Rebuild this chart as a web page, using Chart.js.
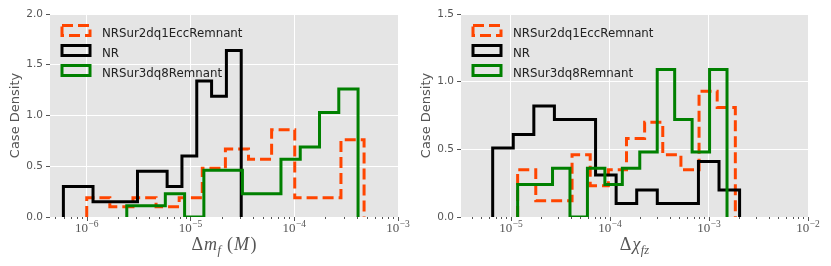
<!DOCTYPE html>
<html>
<head>
<meta charset="utf-8">
<script src="https://cdn.jsdelivr.net/npm/chart.js@4.4.0/dist/chart.umd.min.js"></script>
<style>
  body { margin: 0; background: #fff; width: 831px; height: 266px; overflow: hidden; }
  #wrap { display: flex; }
  canvas { display: block; }
</style>
</head>
<body>
<div id="wrap">
  <canvas id="massVis" width="415" height="266"></canvas>
  <canvas id="spinVis" width="416" height="266"></canvas>
</div>
<script>
const seriesNames = ['NRSur2dq1EccRemnant', 'NR', 'NRSur3dq8Remnant'];
const seriesColors = ['#ff4500', '#000000', '#008000'];

// left panel, Delta m_f : 12 equal bins in log10, [first edge, last edge]
const massEccRange = [-6.0, -3.327];
const massEccDensity = [0.19, 0.10, 0.19, 0.10, 0.19, 0.48, 0.67, 0.57, 0.86, 0.19, 0.19, 0.76];
const massNRRange = [-6.225, -4.511];
const massNRDensity = [0.30, 0.30, 0.15, 0.15, 0.15, 0.45, 0.45, 0.30, 0.60, 1.34, 1.19, 1.64];
const massSur3Range = [-5.614, -3.385];
const massSur3Density = [0.11, 0.11, 0.23, 0, 0.46, 0.46, 0.23, 0.23, 0.57, 0.69, 1.03, 1.26];

// right panel, Delta chi_fz
const spinEccRange = [-4.933, -2.734];
const spinEccDensity = [0.35, 0.12, 0.12, 0.46, 0.23, 0.35, 0.58, 0.70, 0.46, 0.35, 0.93, 0.81];
const spinNRRange = [-5.185, -2.691];
const spinNRDensity = [0.51, 0.61, 0.82, 0.72, 0.72, 0.31, 0.10, 0.20, 0.10, 0.10, 0.41, 0.20];
const spinSur3Range = [-4.933, -2.818];
const spinSur3Density = [0.24, 0.24, 0.36, 0, 0.36, 0.24, 0.36, 0.48, 1.09, 0.72, 0.48, 1.09];

const massDecades = [-6, -5, -4, -3];
const spinDecades = [-5, -4, -3, -2];

// turn bin range + heights into the outline of a step histogram
function stepOutline(range, heights) {
  const n = heights.length;
  const w = (range[1] - range[0]) / n;
  const edge = i => Math.pow(10, range[0] + i * w);
  const pts = [{x: edge(0), y: 0}];
  heights.forEach((h, i) => {
    pts.push({x: edge(i), y: h});
    pts.push({x: edge(i + 1), y: h});
  });
  pts.push({x: edge(n), y: 0});
  return pts;
}

function isDecade(v) {
  const p = Math.log10(v);
  return Math.abs(p - Math.round(p)) < 1e-6;
}
function isMinor(v) {
  const s = v / Math.pow(10, Math.floor(Math.log10(v) + 1e-9));
  return Math.abs(s - Math.round(s)) < 1e-6;
}

// draw a run of text pieces [text, font, dy, extra gap] centred on cx
function drawPieces(ctx, parts, cx, base) {
  let total = 0;
  parts.forEach(p => { ctx.font = p[1]; total += ctx.measureText(p[0]).width + (p[3] || 0); });
  let x = cx - total / 2;
  parts.forEach(p => {
    ctx.font = p[1];
    ctx.fillText(p[0], x, base + (p[2] || 0));
    x += ctx.measureText(p[0]).width + (p[3] || 0);
  });
}

const SERIF = '"Liberation Serif", "DejaVu Serif", serif';

const panelDecor = {
  id: 'panelDecor',
  beforeDraw(chart) {
    const {ctx, chartArea: a} = chart;
    ctx.save();
    ctx.fillStyle = '#ffffff';
    ctx.fillRect(0, 0, chart.width, chart.height);
    ctx.fillStyle = '#e5e5e5';
    ctx.fillRect(a.left, a.top, a.right - a.left, a.bottom - a.top);
    ctx.restore();
  },
  afterDraw(chart, args, opts) {
    const {ctx, chartArea: a} = chart;
    const xs = chart.scales.x;
    ctx.save();
    // x tick marks
    ctx.strokeStyle = '#555555';
    ctx.lineWidth = 1;
    xs.ticks.forEach(t => {
      if (!isMinor(t.value)) return;
      const px = Math.round(xs.getPixelForValue(t.value)) + 0.5;
      const len = isDecade(t.value) ? 4 : 2;
      ctx.beginPath();
      ctx.moveTo(px, a.bottom);
      ctx.lineTo(px, a.bottom + len);
      ctx.stroke();
    });
    // x tick labels 10^n
    ctx.fillStyle = '#555555';
    ctx.textBaseline = 'alphabetic';
    ctx.textAlign = 'left';
    opts.decades.forEach(e => {
      const px = xs.getPixelForValue(Math.pow(10, e));
      drawPieces(ctx, [
        ['10', '13px ' + SERIF, 0, 0.5],
        ['\u2212' + Math.abs(e), '9.5px ' + SERIF, -5]
      ], px, 232);
    });
    // x axis title
    drawPieces(ctx, opts.xTitle, (a.left + a.right) / 2, 250);
    // y axis title
    ctx.save();
    ctx.translate(a.left - 34, (a.top + a.bottom) / 2);
    ctx.rotate(-Math.PI / 2);
    ctx.textAlign = 'center';
    ctx.textBaseline = 'middle';
    ctx.font = '13px "DejaVu Sans"';
    ctx.fillText('Case Density', 0, 0);
    ctx.restore();
    // legend
    const rows = [30.5, 50.5, 70.5];
    seriesNames.forEach((name, i) => {
      ctx.lineWidth = 3;
      ctx.strokeStyle = seriesColors[i];
      ctx.setLineDash(i === 0 ? [11, 5] : []);
      ctx.strokeRect(a.left + 12, rows[i] - 5, 28, 10);
      ctx.setLineDash([]);
      ctx.fillStyle = '#222222';
      ctx.font = '11.8px "DejaVu Sans"';
      ctx.fillText(name, a.left + 52, rows[i] + 6.3);
    });
    ctx.restore();
  }
};

function histSet(i, pts) {
  return {
    label: seriesNames[i],
    data: pts,
    showLine: true,
    borderColor: seriesColors[i],
    borderWidth: 3,
    borderDash: i === 0 ? [11, 5] : [],
    borderJoinStyle: 'miter',
    borderCapStyle: 'butt',
    pointRadius: 0,
    fill: false,
    tension: 0,
    order: i === 0 ? 3 : (i === 1 ? 2 : 1)
  };
}

function makePanel(id, sets, cfg) {
  return new Chart(document.getElementById(id), {
    type: 'scatter',
    data: { datasets: sets },
    options: {
      responsive: false,
      animation: false,
      devicePixelRatio: 1,
      layout: { padding: { top: 14, right: cfg.padRight, left: 0, bottom: 0 } },
      plugins: {
        legend: { display: false },
        tooltip: { enabled: false },
        panelDecor: { decades: cfg.decades, xTitle: cfg.xTitle }
      },
      scales: {
        x: {
          type: 'logarithmic',
          min: cfg.xMin,
          max: cfg.xMax,
          afterFit: s => { s.height = 49; },
          ticks: { display: false },
          grid: {
            color: c => (c.tick && isDecade(c.tick.value)) ? '#ffffff' : 'rgba(0,0,0,0)',
            lineWidth: 1,
            drawTicks: false
          },
          border: { display: false }
        },
        y: {
          min: 0,
          max: cfg.yMax,
          afterFit: s => { s.width = cfg.yWidth; },
          ticks: {
            stepSize: 0.5,
            color: '#555555',
            font: { family: 'DejaVu Sans', size: 10.5 },
            padding: 3,
            callback: v => v.toFixed(1)
          },
          grid: { color: '#ffffff', lineWidth: 1, tickColor: '#555555', tickLength: 4 },
          border: { display: false }
        }
      }
    },
    plugins: [panelDecor]
  });
}

const up = '18px ' + SERIF;
const itx = 'italic 18px ' + SERIF;
const sub = 'italic 12.5px ' + SERIF;

makePanel('massVis', [
  histSet(0, stepOutline(massEccRange, massEccDensity)),
  histSet(1, stepOutline(massNRRange, massNRDensity)),
  histSet(2, stepOutline(massSur3Range, massSur3Density))
], {
  xMin: Math.pow(10, -6.354), xMax: 1e-3, yMax: 2.0, yWidth: 50, padRight: 17,
  decades: massDecades,
  xTitle: [['\u0394', up, 0, 1], ['m', itx, 0, 0.5], ['f', sub, 4, 6], ['(', up, 0, 1], ['M', itx, 0, 1.5], [')', up, 0]]
});

makePanel('spinVis', [
  histSet(0, stepOutline(spinEccRange, spinEccDensity)),
  histSet(1, stepOutline(spinNRRange, spinNRDensity)),
  histSet(2, stepOutline(spinSur3Range, spinSur3Density))
], {
  xMin: Math.pow(10, -5.505), xMax: 1e-2, yMax: 1.5, yWidth: 46, padRight: 23,
  decades: spinDecades,
  xTitle: [['\u0394', up, 0, 1], ['\u03c7', itx, 0, 0.5], ['fz', sub, 4]]
});
</script>
</body>
</html>
